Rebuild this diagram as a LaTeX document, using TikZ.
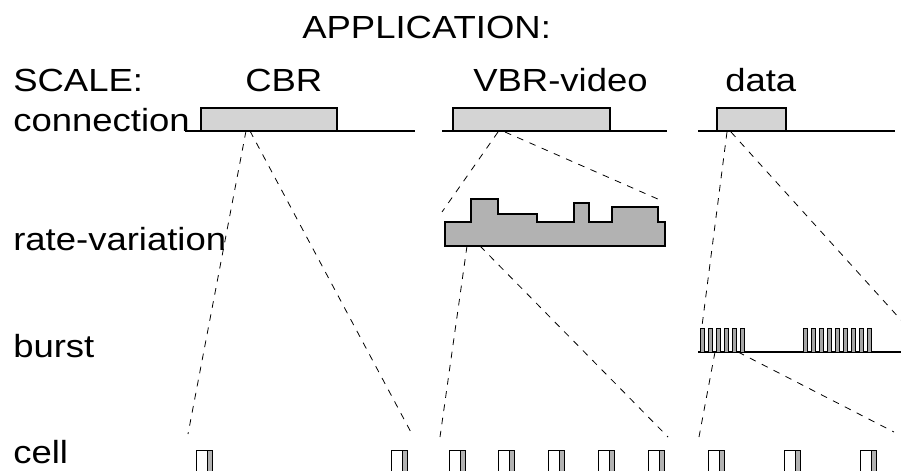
\documentclass[tikz,border=0pt]{standalone}
\usepackage{fontspec}
\setmainfont{Liberation Sans}[FakeStretch=1.14]
\begin{document}
\begin{tikzpicture}[x=0.75pt,y=-0.75pt,
  lbl/.style={anchor=base west,inner sep=0pt,font=\fontsize{24}{28}\selectfont},
  connbox/.style={draw=black,line width=0.9pt,fill=black!17},
  baseln/.style={draw=black,line width=0.9pt},
  zoomln/.style={draw=black,line width=0.6pt,dash pattern=on 5pt off 5pt},
  ratefill/.style={fill=black!30,draw=black,line width=0.9pt},
  pulse/.style={draw=black,line width=0.6pt,fill=black!35},
  cellbox/.style={draw=black,line width=0.7pt,fill=white},
  cellstripe/.style={draw=black,line width=0.5pt,fill=black!30}]
\useasboundingbox (0,0) rectangle (901,471);

% texts
\node[lbl] (app) at (302,38) {APPLICATION:};
\node[lbl] (scale) at (13,91) {SCALE:};
\node[lbl] (cbr) at (245,91) {CBR};
\node[lbl] (vbr) at (473,91) {VBR-video};
\node[lbl] (data) at (725,91) {data};
\node[lbl] (lconn) at (13,131) {connection};
\node[lbl] (lrate) at (13,250) {rate-variation};
\node[lbl] (lburst) at (13,357) {burst};
\node[lbl] (lcell) at (13,463) {cell};

% connection level
\draw[baseln] (185,131) -- (415,131);
\draw[connbox] (201,131) rectangle (337,108);
\draw[baseln] (442,131) -- (667,131);
\draw[connbox] (453,131) rectangle (610,108);
\draw[baseln] (698,131) -- (895,131);
\draw[connbox] (717,131) rectangle (786,108);

% rate-variation
\draw[ratefill] (445,246) -- (445,222) -- (471,222) -- (471,199) -- (498,199) -- (498,214)
  -- (537,214) -- (537,222) -- (574,222) -- (574,203) -- (589,203) -- (589,222)
  -- (612,222) -- (612,207) -- (658,207) -- (658,222) -- (665,222) -- (665,246) -- cycle;

% burst
\draw[baseln] (698,352) -- (901,352);
\foreach \x in {700,708,716,724,732,740} \draw[pulse] (\x,352) rectangle ++(4,-24);
\foreach \x in {803,811,819,827,835,843,851,859,867} \draw[pulse] (\x,352) rectangle ++(4,-24);

% cells
\foreach \x in {196,391,449,498,548,598,648,708,784,860} {
  \draw[cellbox] (\x,476) rectangle ++(16,-26);
  \draw[cellstripe] (\x+11,476) rectangle (\x+16,450);
}

% zoom lines
\coordinate (cbrA) at (246,131); \coordinate (cbrB) at (250,131);
\coordinate (cbrL) at (188,434); \coordinate (cbrR) at (413,436);
\draw[zoomln] (cbrA) -- (cbrL);
\draw[zoomln] (cbrB) -- (cbrR);

\coordinate (vbA) at (498,132); \coordinate (vbB) at (505,132);
\coordinate (vbL) at (442,212); \coordinate (vbR) at (660,200);
\draw[zoomln] (vbA) -- (vbL);
\draw[zoomln] (vbB) -- (vbR);

\coordinate (vrA) at (467,246); \coordinate (vrB) at (480,246);
\coordinate (vrL) at (440,437); \coordinate (vrR) at (668,437);
\draw[zoomln] (vrA) -- (vrL);
\draw[zoomln] (vrB) -- (vrR);

\coordinate (dcA) at (727,132); \coordinate (dcB) at (731,132);
\coordinate (dcL) at (702,326); \coordinate (dcR) at (901,320);
\draw[zoomln] (dcA) -- (dcL);
\draw[zoomln] (dcB) -- (dcR);

\coordinate (dbA) at (715,352); \coordinate (dbB) at (738,352);
\coordinate (dbL) at (699,437); \coordinate (dbR) at (894,432);
\draw[zoomln] (dbA) -- (dbL);
\draw[zoomln] (dbB) -- (dbR);
\end{tikzpicture}
\end{document}
